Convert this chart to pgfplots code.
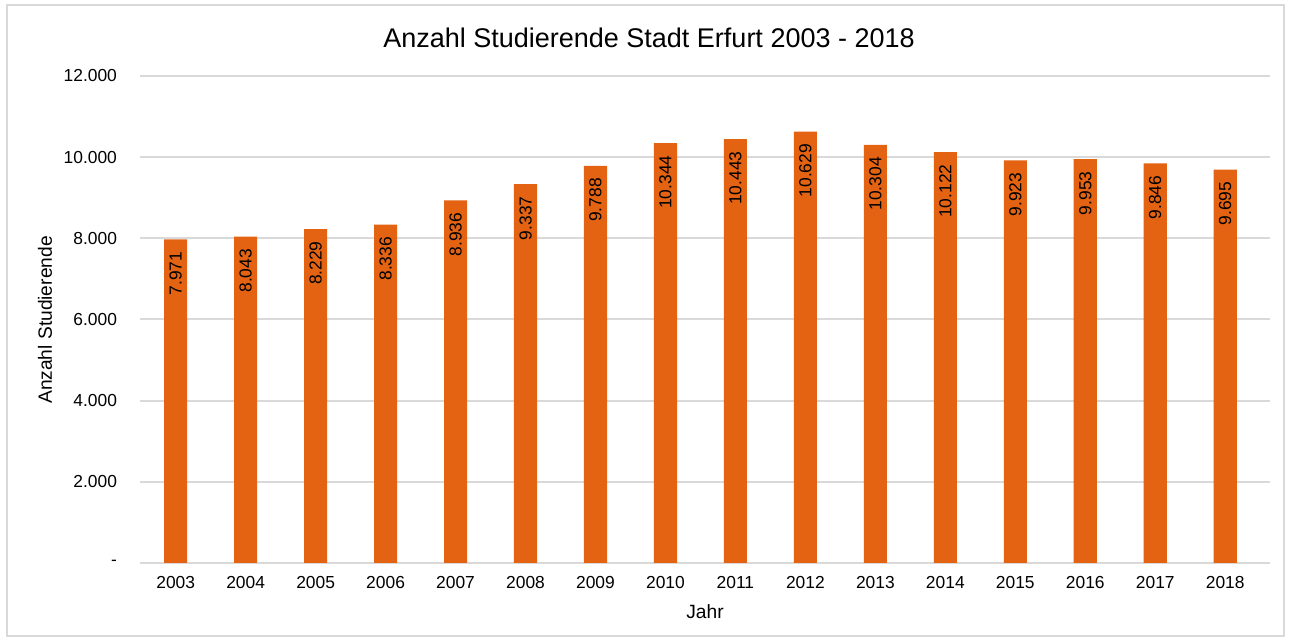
\documentclass[border=0pt]{standalone}
\usepackage{pgfplots}
\usepackage{pgfplotstable}
\pgfplotsset{compat=1.18}
\usepackage{fontspec}
\setmainfont{Liberation Sans}
\definecolor{barorange}{RGB}{227,99,18}
\definecolor{gridgray}{RGB}{217,217,217}
\pgfplotstableread{
x val lab
0 7971 7.971
1 8043 8.043
2 8229 8.229
3 8336 8.336
4 8936 8.936
5 9337 9.337
6 9788 9.788
7 10344 10.344
8 10443 10.443
9 10629 10.629
10 10304 10.304
11 10122 10.122
12 9923 9.923
13 9953 9.953
14 9846 9.846
15 9695 9.695
}\datatable
\begin{document}
\begin{tikzpicture}
\path[use as bounding box] (0,0) rectangle (645.5pt,320.5pt);
\draw[gridgray, line width=1pt] (3.5pt,2.5pt) rectangle (642pt,318pt);
\begin{axis}[
  at={(70pt,39pt)}, anchor=south west,
  scale only axis, width=565pt, height=243.5pt,
  ymin=0, ymax=12000,
  xmin=-0.51, xmax=15.64,
  scaled y ticks=false,
  ytick={0,2000,4000,6000,8000,10000,12000},
  yticklabels={-,2.000,4.000,6.000,8.000,10.000,12.000},
  xtick={0,...,15},
  xticklabels={2003,2004,2005,2006,2007,2008,2009,2010,2011,2012,2013,2014,2015,2016,2017,2018},
  ymajorgrids, grid style={gridgray, line width=1pt},
  axis line style={draw=none},
  major tick length=0pt,
  tick label style={font=\fontsize{8.7}{10}\selectfont},
  yticklabel style={xshift=-8pt},
  xticklabel style={yshift=-3pt},
  point meta=explicit symbolic,
  nodes near coords,
  every node near coord/.style={rotate=90, anchor=east, inner xsep=6pt, inner ysep=0pt, font=\fontsize{8.7}{10}\selectfont, text=black},
  clip=false,
]
\addplot[ybar, bar width=0.33, fill=barorange, draw=none] table[x=x, y=val, meta=lab] {\datatable};
\end{axis}
\node[font=\fontsize{13.5}{16}\selectfont] at (324.5pt,301.5pt) {Anzahl Studierende Stadt Erfurt 2003 - 2018};
\node[font=\fontsize{9.6}{11}\selectfont, rotate=90] at (22.5pt,160.5pt) {Anzahl Studierende};
\node[font=\fontsize{9.6}{11}\selectfont] at (352.5pt,14.5pt) {Jahr};
\end{tikzpicture}
\end{document}
